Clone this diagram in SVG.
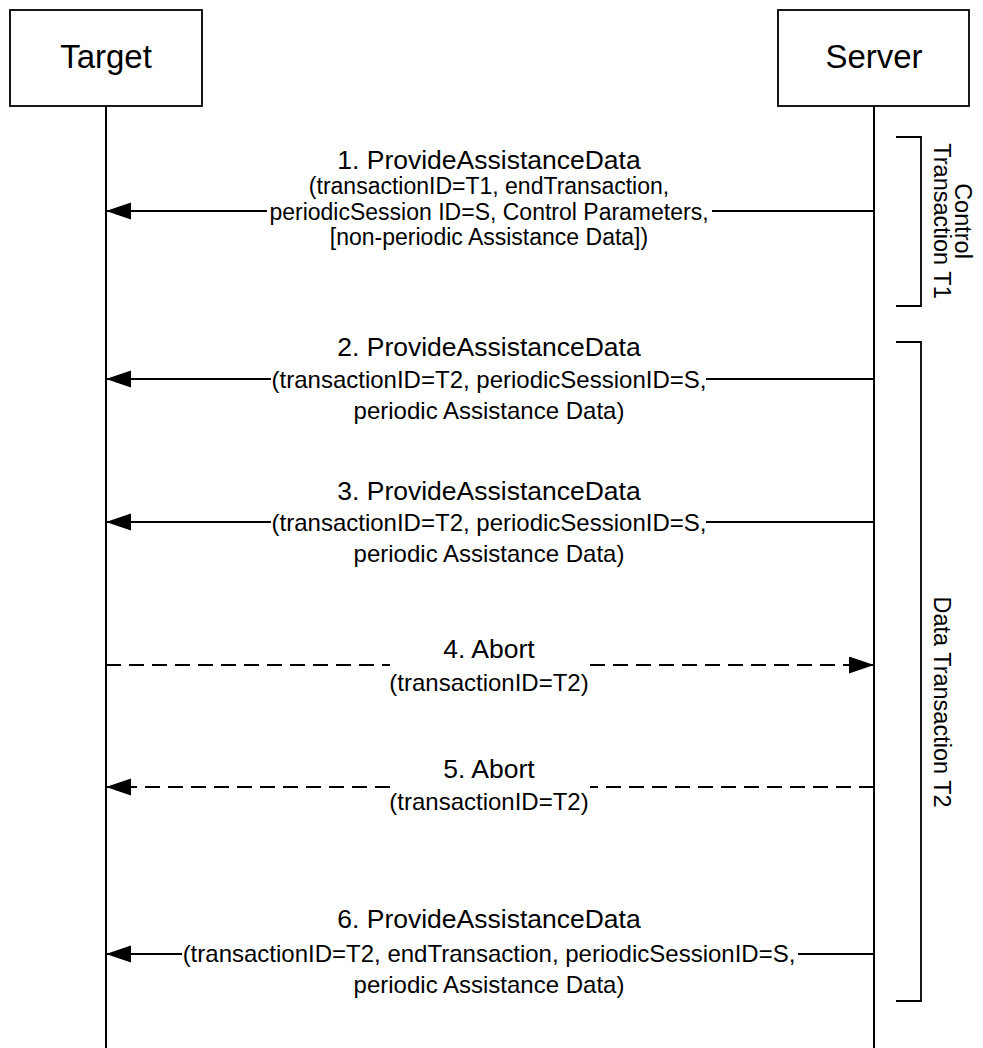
<svg xmlns="http://www.w3.org/2000/svg" width="983" height="1048" viewBox="0 0 983 1048">
<style>
text{font-family:"Liberation Sans",Arial,sans-serif;fill:#000}
.box{fill:#fff;stroke:#000;stroke-width:1.8}
.life{stroke:#000;stroke-width:2;fill:none}
.msg{stroke:#000;stroke-width:1.8;fill:none}
.dash{stroke-dasharray:15 8}
.brk{stroke:#000;stroke-width:1.8;fill:none}
.actor{font-size:33px;text-anchor:middle}
.t{font-size:26.5px;text-anchor:middle}
.p{font-size:24px;text-anchor:middle}
.p1{font-size:23px;text-anchor:middle}
.side{font-size:23.5px;text-anchor:middle}
</style>
<defs>
<marker id="ah" markerUnits="userSpaceOnUse" markerWidth="26" markerHeight="18" refX="25" refY="8.5" orient="auto">
<path d="M0,0 L25,8.5 L0,17 z" fill="#000" stroke="none"/>
</marker>
</defs>
<g id="target">
<rect class="box" x="10" y="10" width="192" height="96"/>
<text class="actor" x="106" y="68">Target</text>
<line class="life" x1="106" y1="106" x2="106" y2="1048"/>
</g>
<g id="server">
<rect class="box" x="778" y="10" width="191" height="96"/>
<text class="actor" x="874" y="68">Server</text>
<line class="life" x1="874" y1="106" x2="874" y2="1048"/>
</g>
<g id="connectors">
<line class="msg" x1="874" y1="211" x2="712" y2="211"/>
<line class="msg" x1="267" y1="211" x2="106" y2="211" marker-end="url(#ah)"/>
<line class="msg" x1="874" y1="379" x2="706" y2="379"/>
<line class="msg" x1="271" y1="379" x2="106" y2="379" marker-end="url(#ah)"/>
<line class="msg" x1="874" y1="522" x2="706" y2="522"/>
<line class="msg" x1="271" y1="522" x2="106" y2="522" marker-end="url(#ah)"/>
<line class="msg dash" x1="106" y1="665" x2="390" y2="665"/>
<line class="msg dash" x1="590" y1="665" x2="874" y2="665" marker-end="url(#ah)"/>
<line class="msg dash" x1="874" y1="787" x2="590" y2="787"/>
<line class="msg dash" x1="390" y1="787" x2="106" y2="787" marker-end="url(#ah)"/>
<line class="msg" x1="874" y1="954" x2="798" y2="954"/>
<line class="msg" x1="182" y1="954" x2="106" y2="954" marker-end="url(#ah)"/>
</g>
<g id="msg1">
<text class="t" x="489" y="169">1. ProvideAssistanceData</text>
<text class="p1" x="489" y="194">(transactionID=T1, endTransaction,</text>
<text class="p1" x="489" y="219.5">periodicSession ID=S, Control Parameters,</text>
<text class="p1" x="489" y="245">[non-periodic Assistance Data])</text>
</g>
<g id="msg2">
<text class="t" x="489" y="356">2. ProvideAssistanceData</text>
<text class="p" x="489" y="387.5">(transactionID=T2, periodicSessionID=S,</text>
<text class="p" x="489" y="418.5">periodic Assistance Data)</text>
</g>
<g id="msg3">
<text class="t" x="489" y="500">3. ProvideAssistanceData</text>
<text class="p" x="489" y="530.5">(transactionID=T2, periodicSessionID=S,</text>
<text class="p" x="489" y="562">periodic Assistance Data)</text>
</g>
<g id="msg4">
<text class="t" x="489" y="658">4. Abort</text>
<text class="p" x="489" y="691">(transactionID=T2)</text>
</g>
<g id="msg5">
<text class="t" x="489" y="778">5. Abort</text>
<text class="p" x="489" y="810">(transactionID=T2)</text>
</g>
<g id="msg6">
<text class="t" x="489" y="928">6. ProvideAssistanceData</text>
<text class="p" x="489" y="962">(transactionID=T2, endTransaction, periodicSessionID=S,</text>
<text class="p" x="489" y="993">periodic Assistance Data)</text>
</g>
<g id="controlT1">
<path class="brk" d="M896,137 H921 V306 H896"/>
<g transform="translate(952.5,221) rotate(90)">
<text class="side" x="0" y="-2.5">Control</text>
<text class="side" x="0" y="18.5">Transaction T1</text>
</g>
</g>
<g id="dataT2">
<path class="brk" d="M896,342 H921 V1001 H896"/>
<g transform="translate(942,702) rotate(90)">
<text class="side" x="0" y="8">Data Transaction T2</text>
</g>
</g>
</svg>
